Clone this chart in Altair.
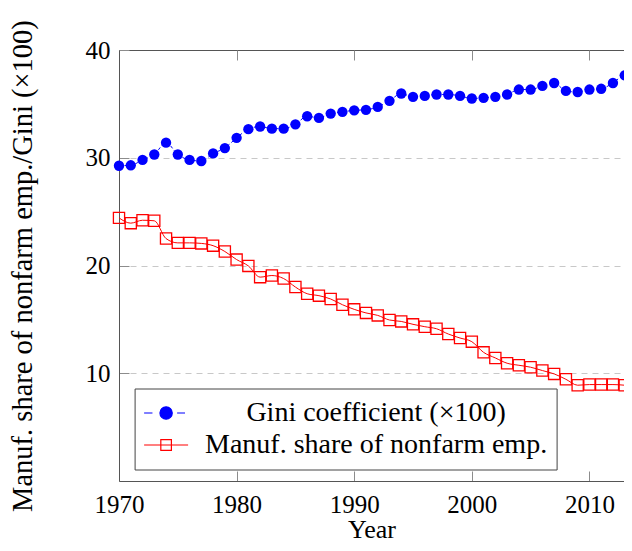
import altair as alt
import pandas as pd

# ---------------- data ----------------
years = list(range(1970, 2015))
gini = [29.26, 29.3, 29.8, 30.3, 31.4, 30.3, 29.8, 29.7, 30.4, 30.9,
        31.85, 32.65, 32.9, 32.7, 32.7, 33.1, 33.85, 33.7, 34.1, 34.26,
        34.4, 34.45, 34.72, 35.28, 35.96, 35.65, 35.74, 35.87, 35.87, 35.74,
        35.5, 35.56, 35.65, 35.87, 36.33, 36.33, 36.67, 36.94, 36.2, 36.1,
        36.33, 36.4, 36.94, 37.65, 36.6]
manuf = [24.42, 23.93, 24.2, 24.15, 22.5, 22.1, 22.1, 22.05, 21.84, 21.3,
         20.55, 19.96, 18.92, 19.07, 18.79, 18.0, 17.38, 17.2, 16.89, 16.36,
         15.93, 15.6, 15.37, 14.94, 14.81, 14.54, 14.32, 14.13, 13.64, 13.27,
         12.93, 11.94, 11.42, 10.93, 10.74, 10.56, 10.25, 9.94, 9.44, 8.89,
         8.95, 8.95, 8.95, 8.89, 8.77]
series_names = ["Gini coefficient (×100)", "Manuf. share of nonfarm emp."]
series_colors = ["#0000ff", "#ff0000"]
x_ticks = [1970, 1980, 1990, 2000, 2010]
y_ticks = [10, 20, 30, 40]
x_title = "Year"
y_title = "Manuf. share of nonfarm emp./Gini (×100)"

rows = [{"year": y, "value": v, "series": series_names[0]} for y, v in zip(years, gini)]
rows += [{"year": y, "value": v, "series": series_names[1]} for y, v in zip(years, manuf)]
df = pd.DataFrame(rows)

FONT = "Liberation Serif"
BLUE, RED = series_colors
FRAME = "#555555"

# legend glyphs (unit-square SVG paths): dashed line + dot, line + open square
gini_glyph = ("M-1,0H-0.62M0.5,0H0.86"
              "M-0.28,0A0.28,0.28,0,1,1,0.28,0A0.28,0.28,0,1,1,-0.28,0Z")
manuf_glyph = "M-1,0H1M-0.24,-0.24H0.24V0.24H-0.24Z"

# the plot area runs on past the right edge of the picture, as in the reference
xscale = alt.Scale(domain=[1970, 2012.94], nice=False, zero=False)
yscale = alt.Scale(domain=[0, 40], nice=False, zero=False)

y_main = alt.Y(
    "value:Q", scale=yscale,
    axis=alt.Axis(orient="left", values=y_ticks, title=y_title, offset=-10, tickSize=10,
                  domain=False, grid=True,
                  gridColor={"condition": {"test": "datum.value >= 40", "value": "transparent"},
                             "value": "#c8c8c8"},
                  gridDash=[6, 5], gridWidth=1, labelPadding=9,
                  titlePadding=48, titleFontSize=28.5),
)
y_frame = alt.Y("value:Q", scale=yscale,
                axis=alt.Axis(orient="left", domain=True, ticks=False, labels=False,
                              grid=False, title=None))
y_none = alt.Y("value:Q", scale=yscale, axis=None)

x_bottom = alt.X(
    "year:Q", scale=xscale,
    axis=alt.Axis(values=x_ticks, format="d", title=x_title, orient="bottom",
                  offset=-10, tickSize=10, domain=False, grid=False, labelFlush=False,
                  labelPadding=11, titlePadding=-1, titleFontSize=26),
)
x_top_ticks = alt.X(
    "year:Q", scale=xscale,
    axis=alt.Axis(values=x_ticks, orient="top", labels=False, title=None,
                  offset=-10, tickSize=10, domain=False, grid=False),
)
x_top_frame = alt.X("year:Q", scale=xscale,
                    axis=alt.Axis(orient="top", domain=True, ticks=False, labels=False,
                                  grid=False, title=None))
x_bottom_frame = alt.X("year:Q", scale=xscale,
                       axis=alt.Axis(orient="bottom", domain=True, ticks=False, labels=False,
                                     grid=False, title=None))
x_none = alt.X("year:Q", scale=xscale, axis=None)

base = alt.Chart(df)
gini_data = base.transform_filter(alt.datum.series == series_names[0])
manuf_data = base.transform_filter(alt.datum.series == series_names[1])

gini_line = gini_data.mark_line(color=BLUE, strokeWidth=1, strokeDash=[3, 2.5],
                                interpolate="monotone").encode(x=x_bottom, y=y_main)
gini_pts = gini_data.mark_point(filled=True, shape="circle", size=107, color=BLUE,
                                opacity=1).encode(x=x_top_frame, y=y_frame)
manuf_line = manuf_data.mark_line(color=RED, strokeWidth=1,
                                  interpolate="monotone").encode(x=x_top_ticks, y=y_none)
manuf_pts = manuf_data.mark_point(filled=False, shape="square", size=125, color=RED,
                                  strokeWidth=1.3, opacity=1).encode(x=x_bottom_frame, y=y_none)

leg = alt.Legend(title=None, orient="none", legendX=15.6, legendY=338.5)
legend_layer = base.transform_filter("false").mark_point(opacity=1).encode(
    x=x_none, y=y_none,
    stroke=alt.Stroke("series:N", scale=alt.Scale(domain=series_names, range=series_colors), legend=leg),
    fill=alt.Fill("series:N", scale=alt.Scale(domain=series_names, range=[BLUE, "transparent"]), legend=leg),
    shape=alt.Shape("series:N", scale=alt.Scale(domain=series_names, range=[gini_glyph, manuf_glyph]), legend=leg),
)

chart = (
    alt.layer(gini_line, gini_pts, manuf_line, manuf_pts, legend_layer)
    .resolve_axis(x="independent", y="independent")
    .properties(width=505, height=431,
                autosize=alt.AutoSizeParams(type="none"),
                padding={"left": 111, "top": 42, "right": 0, "bottom": 62},
                background="white")
    .configure_view(stroke=None)
    .configure_axis(labelFont=FONT, labelFontSize=25, labelColor="black",
                    titleFont=FONT, titleFontWeight="normal", titleColor="black",
                    tickColor="#8c8c8c", tickWidth=1, domainColor=FRAME, domainWidth=1)
    .configure_legend(labelFont=FONT, labelFontSize=28, labelColor="black",
                      labelAlign="center", labelOffset=187, labelLimit=0,
                      symbolSize=1936, symbolStrokeWidth=1.2, symbolOpacity=1,
                      clipHeight=32, rowPadding=0, padding=8.5,
                      strokeColor="#444444", fillColor="white", cornerRadius=0)
)

chart.save("out.html", embed_options={"renderer": "svg", "actions": False})
